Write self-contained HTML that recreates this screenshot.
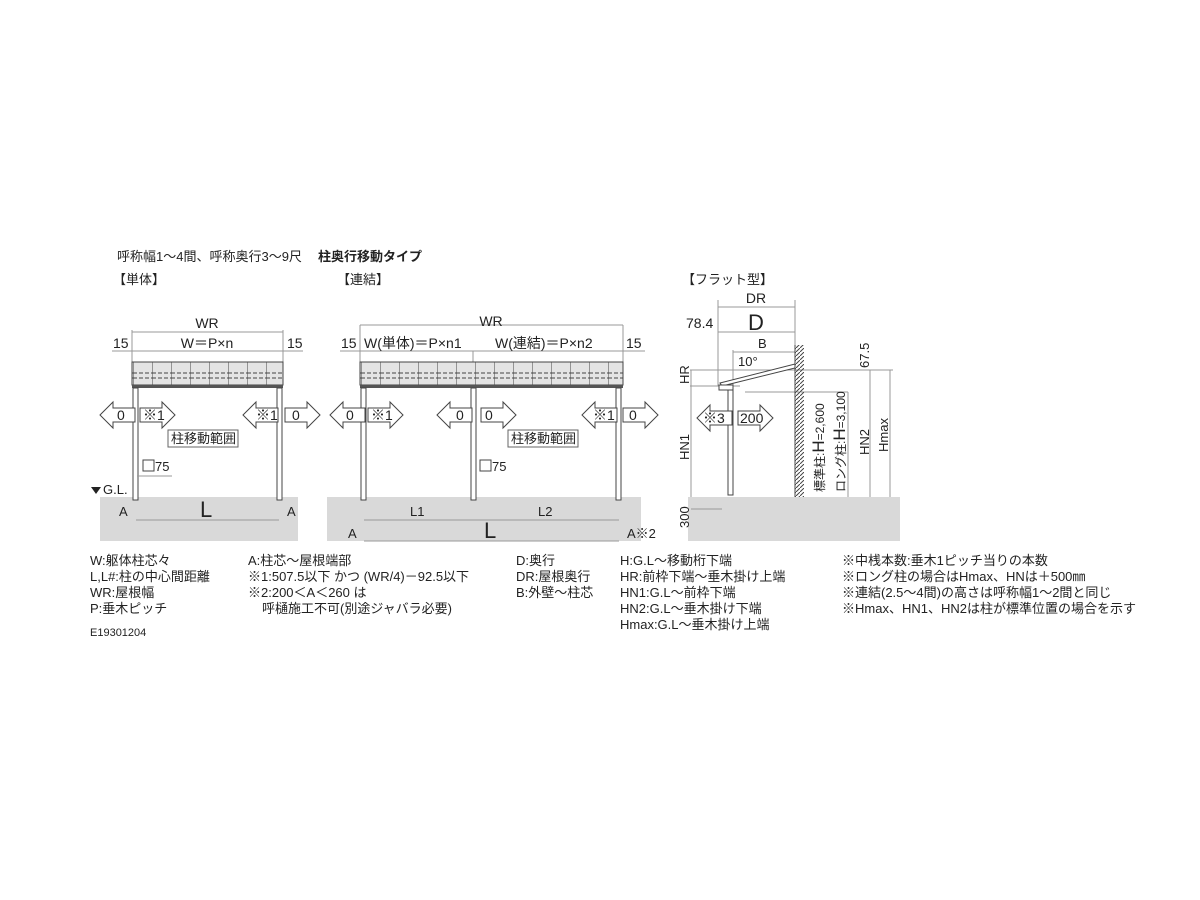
<!DOCTYPE html><html><head><meta charset="utf-8"><style>
body{margin:0;background:#fff;width:1200px;height:900px;overflow:hidden}
svg{position:absolute;left:0;top:0}
text{font-family:"Liberation Sans","Noto Sans CJK JP",sans-serif;fill:#222}
.s{font-size:13px}.m{font-size:14px}.a{font-size:14px}
</style></head><body>
<svg width="1200" height="900" viewBox="0 0 1200 900">
<defs>
<pattern id="r" width="19" height="26" patternUnits="userSpaceOnUse"><rect width="19" height="26" fill="#e4e4e4"/><line x1="0" y1="0" x2="0" y2="26" stroke="#444" stroke-width="1"/><line x1="0" y1="9" x2="19" y2="9" stroke="#444" stroke-dasharray="4 2" stroke-width="0.9"/><line x1="0" y1="14" x2="19" y2="14" stroke="#444" stroke-dasharray="4 2" stroke-width="0.9"/></pattern>
<pattern id="h" width="4" height="4" patternUnits="userSpaceOnUse"><line x1="0" y1="4" x2="4" y2="0" stroke="#444" stroke-width="1"/></pattern>
<g id="la"><polygon points="0,0 13,-13 13,-7 35,-7 35,7 13,7 13,13" fill="#fff" stroke="#444"/></g>
<g id="ra"><polygon points="35,0 22,-13 22,-7 0,-7 0,7 22,7 22,13" fill="#fff" stroke="#444"/></g>
</defs>
<text x="117" y="261" class="s">呼称幅1～4間、呼称奥行3～9尺</text>
<text x="318" y="261" class="s" font-weight="bold">柱奥行移動タイプ</text>
<text x="113" y="284" class="s">【単体】</text>
<text x="337" y="284" class="s">【連結】</text>
<text x="682" y="284" class="s">【フラット型】</text>
<rect x="100" y="497" width="198" height="44" fill="#d9d9d9"/>
<rect x="327" y="497" width="314" height="44" fill="#d9d9d9"/>
<rect x="688" y="497" width="212" height="44" fill="#d9d9d9"/>
<g stroke="#999" fill="none" stroke-width="1">
<line x1="132" y1="332" x2="283" y2="332"/><line x1="112" y1="351" x2="303" y2="351"/>
<line x1="132" y1="330" x2="132" y2="362"/><line x1="283" y1="330" x2="283" y2="362"/>
</g>
<text x="207" y="328" class="m" text-anchor="middle">WR</text>
<text x="207" y="348" class="m" text-anchor="middle">W＝P×n</text>
<text x="113" y="348" class="m">15</text><text x="287" y="348" class="m">15</text>
<rect x="132" y="362" width="151" height="23" fill="url(#r)" stroke="#444"/>
<rect x="132" y="385" width="151" height="3" fill="#555"/>
<rect x="133" y="388" width="5" height="112" fill="#fff" stroke="#444"/>
<rect x="277" y="388" width="5" height="112" fill="#fff" stroke="#444"/>
<use href="#la" x="100" y="415"/><use href="#ra" x="140" y="415"/>
<use href="#la" x="243" y="415"/><use href="#ra" x="285" y="415"/>
<text x="117" y="420" class="a">0</text><text x="143" y="420" class="a">※1</text>
<text x="256" y="420" class="a">※1</text><text x="292" y="420" class="a">0</text>
<rect x="168" y="430" width="70" height="17" fill="#fff" stroke="#666"/>
<text x="171" y="443" class="s">柱移動範囲</text>
<rect x="143" y="460" width="11" height="11" fill="#fff" stroke="#444"/>
<text x="155" y="471" class="s">75</text>
<line x1="137" y1="476" x2="172" y2="476" stroke="#999"/>
<polygon points="91,487 101,487 96,494" fill="#222"/>
<text x="103" y="494" class="s">G.L.</text>
<line x1="136" y1="520" x2="279" y2="520" stroke="#999"/>
<text x="119" y="516" class="s">A</text><text x="287" y="516" class="s">A</text>
<text x="200" y="517" font-size="22">L</text>
<g stroke="#999" fill="none">
<line x1="360" y1="325" x2="623" y2="325"/><line x1="340" y1="351" x2="645" y2="351"/>
<line x1="360" y1="325" x2="360" y2="362"/><line x1="623" y1="325" x2="623" y2="362"/><line x1="473" y1="351" x2="473" y2="362"/>
</g>
<text x="491" y="326" class="m" text-anchor="middle">WR</text>
<text x="341" y="348" class="m">15</text>
<text x="364" y="348" class="m">W(単体)＝P×n1</text>
<text x="495" y="348" class="m">W(連結)＝P×n2</text>
<text x="626" y="348" class="m">15</text>
<rect x="360" y="362" width="263" height="23" fill="url(#r)" stroke="#444"/>
<rect x="360" y="385" width="263" height="3" fill="#555"/>
<rect x="361" y="388" width="5" height="112" fill="#fff" stroke="#444"/>
<rect x="471" y="388" width="5" height="112" fill="#fff" stroke="#444"/>
<rect x="616" y="388" width="5" height="112" fill="#fff" stroke="#444"/>
<use href="#la" x="330" y="415"/><use href="#ra" x="368" y="415"/>
<use href="#la" x="437" y="415"/><use href="#ra" x="481" y="415"/>
<use href="#la" x="582" y="415"/><use href="#ra" x="623" y="415"/>
<text x="346" y="420" class="a">0</text><text x="371" y="420" class="a">※1</text>
<text x="456" y="420" class="a">0</text><text x="485" y="420" class="a">0</text>
<text x="593" y="420" class="a">※1</text><text x="629" y="420" class="a">0</text>
<rect x="508" y="430" width="70" height="17" fill="#fff" stroke="#666"/>
<text x="511" y="443" class="s">柱移動範囲</text>
<rect x="480" y="460" width="11" height="11" fill="#fff" stroke="#444"/>
<text x="492" y="471" class="s">75</text>
<g stroke="#999"><line x1="364" y1="520" x2="619" y2="520"/><line x1="364" y1="541" x2="619" y2="541"/></g>
<text x="410" y="516" class="s">L1</text><text x="538" y="516" class="s">L2</text>
<text x="484" y="538" font-size="22">L</text>
<text x="348" y="538" class="s">A</text><text x="627" y="538" class="s">A※2</text>
<g stroke="#999" fill="none">
<line x1="718" y1="307" x2="795" y2="307"/><line x1="718" y1="332" x2="795" y2="332"/>
<line x1="733" y1="352" x2="795" y2="352"/>
<line x1="690" y1="370" x2="893" y2="370"/><line x1="690" y1="386" x2="740" y2="386"/>
<line x1="718" y1="300" x2="718" y2="386"/><line x1="795" y1="300" x2="795" y2="370"/>
<line x1="733" y1="350" x2="733" y2="386"/>
<line x1="691" y1="370" x2="691" y2="497"/><line x1="870" y1="370" x2="870" y2="497"/><line x1="890" y1="370" x2="890" y2="497"/>
<line x1="848" y1="392" x2="848" y2="497"/><line x1="745" y1="392" x2="848" y2="392"/>
<line x1="691" y1="509" x2="722" y2="509"/>
</g>
<text x="756" y="303" class="m" text-anchor="middle">DR</text>
<text x="686" y="328" class="m">78.4</text>
<text x="748" y="330" font-size="22">D</text>
<text x="758" y="348" class="s">B</text>
<text x="738" y="366" class="s">10°</text>
<polygon points="720,383 795,364 795,368 722,386" fill="#fff" stroke="#444"/>
<rect x="719" y="385" width="14" height="5" fill="#fff" stroke="#444"/>
<rect x="728" y="390" width="5" height="105" fill="#fff" stroke="#444"/>
<rect x="795" y="345" width="9" height="152" fill="url(#h)"/>
<line x1="795" y1="345" x2="795" y2="497" stroke="#444"/>
<use href="#la" x="697" y="418"/><use href="#ra" x="738" y="418"/>
<text x="703" y="423" class="a">※3</text><text x="740" y="423" class="a">200</text>
<text transform="translate(689,384) rotate(-90)" class="s">HR</text>
<text transform="translate(689,460) rotate(-90)" class="s">HN1</text>
<text transform="translate(689,528) rotate(-90)" class="s">300</text>
<text transform="translate(869,368) rotate(-90)" class="s">67.5</text>
<text transform="translate(869,455) rotate(-90)" class="s">HN2</text>
<text transform="translate(888,452) rotate(-90)" class="s">Hmax</text>
<text transform="translate(824,492) rotate(-90)" font-size="12">標準柱:<tspan font-size="17">H</tspan>=2,600</text>
<text transform="translate(845,492) rotate(-90)" font-size="12">ロング柱:<tspan font-size="17">H</tspan>=3,100</text>
<g class="s">
<text x="90" y="565">W:躯体柱芯々</text><text x="90" y="581">L,L#:柱の中心間距離</text><text x="90" y="597">WR:屋根幅</text><text x="90" y="613">P:垂木ピッチ</text>
<text x="90" y="636" font-size="11">E19301204</text>
<text x="248" y="565">A:柱芯～屋根端部</text><text x="248" y="581">※1:507.5以下 かつ (WR/4)－92.5以下</text><text x="248" y="597">※2:200＜A＜260 は</text><text x="262" y="613">呼樋施工不可(別途ジャバラ必要)</text>
<text x="516" y="565">D:奥行</text><text x="516" y="581">DR:屋根奥行</text><text x="516" y="597">B:外壁～柱芯</text>
<text x="620" y="565">H:G.L～移動桁下端</text><text x="620" y="581">HR:前枠下端～垂木掛け上端</text><text x="620" y="597">HN1:G.L～前枠下端</text><text x="620" y="613">HN2:G.L～垂木掛け下端</text><text x="620" y="629">Hmax:G.L～垂木掛け上端</text>
<text x="842" y="565">※中桟本数:垂木1ピッチ当りの本数</text><text x="842" y="581">※ロング柱の場合はHmax、HNは＋500㎜</text><text x="842" y="597">※連結(2.5～4間)の高さは呼称幅1～2間と同じ</text><text x="842" y="613">※Hmax、HN1、HN2は柱が標準位置の場合を示す</text>
</g>
</svg></body></html>
